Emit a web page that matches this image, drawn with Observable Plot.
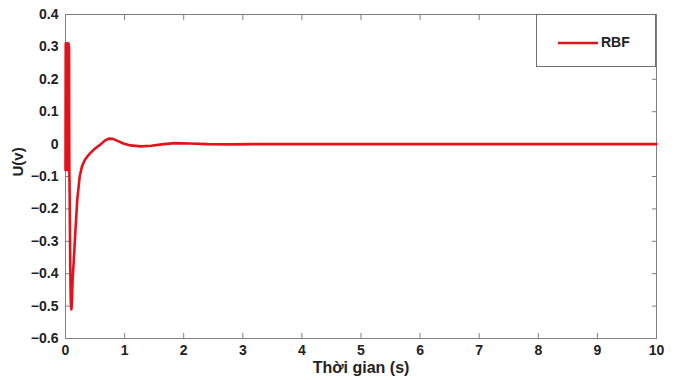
<!DOCTYPE html>
<html>
<head>
<meta charset="utf-8">
<script src="https://cdn.jsdelivr.net/npm/d3@7"></script>
<script src="https://cdn.jsdelivr.net/npm/@observablehq/plot@0.6"></script>
<style>
  html, body { margin: 0; padding: 0; background: #fff; }
  #wrap { position: relative; width: 683px; height: 380px; }
  #legend {
    position: absolute; left: 536px; top: 14px; width: 120px; height: 53px;
    border: 1px solid #707070; background: #fff; box-sizing: border-box;
    font: bold 14px "Liberation Sans", Arial, sans-serif; color: #222;
  }
  #legend svg { position: absolute; left: 21px; top: 26px; }
  #legend span { position: absolute; left: 64px; top: 19px; }
</style>
</head>
<body>
<div id="wrap"></div>
<script>
// Time (s)
const time = [0, 0.004, 0.008, 0.012, 0.016, 0.02, 0.024, 0.028, 0.032, 0.036, 0.04, 0.044, 0.048, 0.052, 0.056, 0.06,
  0.065, 0.07, 0.08, 0.09, 0.1, 0.11, 0.12, 0.14, 0.17, 0.2, 0.24, 0.28, 0.33, 0.37, 0.42, 0.48, 0.54, 0.6, 0.66,
  0.73, 0.8, 0.88, 0.98, 1.1, 1.27, 1.45, 1.66, 1.85, 2.1, 2.4, 2.8, 3.2, 4, 5, 6, 7, 8, 9, 10];
// Control signal U (V), series "RBF"
const rbf = [-0.08, 0.31, -0.08, 0.31, -0.08, 0.31, -0.08, 0.31, -0.08, 0.31, -0.08, 0.31, -0.08, 0.31, -0.08, 0.30,
  -0.08, -0.15, -0.38, -0.49, -0.51, -0.48, -0.42, -0.36, -0.26, -0.17, -0.1, -0.068, -0.048, -0.038, -0.028, -0.017, -0.008, 0.0, 0.01,
  0.017, 0.016, 0.01, 0.002, -0.004, -0.007, -0.005, 0.0, 0.003, 0.002, 0.0, -0.001, 0.0, 0, 0, 0, 0, 0, 0, 0];
const seriesName = "RBF";
const xTicks = [0, 1, 2, 3, 4, 5, 6, 7, 8, 9, 10];
const yTicks = [-0.6, -0.5, -0.4, -0.3, -0.2, -0.1, 0, 0.1, 0.2, 0.3, 0.4];
const xLabel = "Thời gian (s)";
const yLabel = "U(v)";

const data = time.map((t, i) => ({t, u: rbf[i]}));
const fmt = d => d === 0 ? "0" : d3.format(".1f")(d);
const gray = "#808080";

const chart = Plot.plot({
  width: 683,
  height: 380,
  marginLeft: 65,
  marginRight: 27,
  marginTop: 14,
  marginBottom: 42,
  style: {fontFamily: "'Liberation Sans', Arial, sans-serif", fontWeight: "bold", fontSize: "14px", color: "#222", background: "#fff"},
  x: {domain: [0, 10]},
  y: {domain: [-0.6, 0.4]},
  marks: [
    Plot.frame({stroke: gray}),
    Plot.axisX({ticks: xTicks, tickSize: -5, stroke: gray, tickFormat: () => "", label: null}),
    Plot.axisX({anchor: "top", ticks: xTicks, tickSize: -5, stroke: gray, tickFormat: () => "", label: null}),
    Plot.axisY({ticks: yTicks, tickSize: -5, stroke: gray, tickFormat: () => "", label: null}),
    Plot.axisY({anchor: "right", ticks: yTicks, tickSize: -5, stroke: gray, tickFormat: () => "", label: null}),
    Plot.axisX({ticks: xTicks, tickSize: 0, tickPadding: 7, tickFormat: d => String(d), label: null, fill: "#222"}),
    Plot.axisY({ticks: yTicks, tickSize: 0, tickPadding: 7, tickFormat: fmt, label: null, fill: "#222"}),
    Plot.line(data, {x: "t", y: "u", stroke: "#e3121b", strokeWidth: 2.6, curve: "linear"}),
    Plot.text([xLabel], {frameAnchor: "bottom", dy: 34, text: d => d, fontSize: 16, fill: "#222"}),
    Plot.text([yLabel], {frameAnchor: "left", dx: -47, rotate: -90, text: d => d, fontSize: 15, fill: "#222"})
  ]
});
const wrap = document.getElementById("wrap");
wrap.appendChild(chart);
const legend = document.createElement("div");
legend.id = "legend";
legend.innerHTML = `<svg width="40" height="4"><line x1="0" x2="40" y1="2" y2="2" stroke="#e3121b" stroke-width="2.6"/></svg><span>${seriesName}</span>`;
wrap.appendChild(legend);
</script>
</body>
</html>
